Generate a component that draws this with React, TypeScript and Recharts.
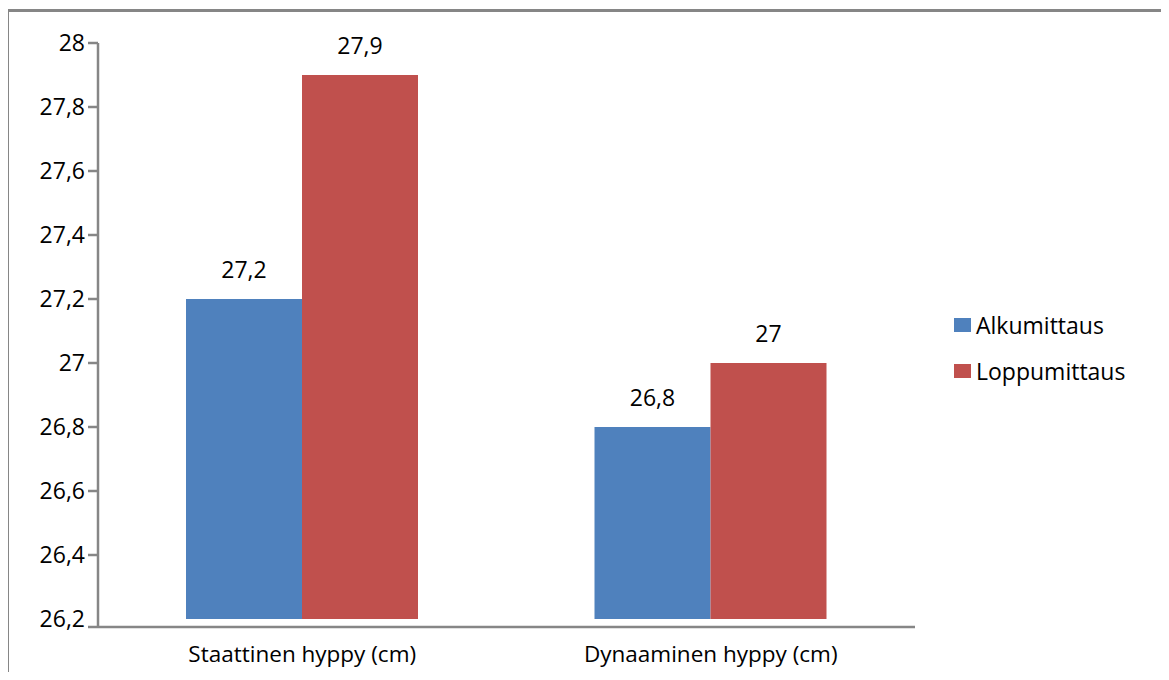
import React from 'react';
import {
    BarChart,
    Bar,
    XAxis,
    YAxis,
    Legend,
    LabelList,
} from 'recharts';

const categories = ['Staattinen hyppy (cm)', 'Dynaaminen hyppy (cm)'];
const alkumittaus = [27.2, 26.8];
const loppumittaus = [27.9, 27.0];
const yTicks = [26.2, 26.4, 26.6, 26.8, 27, 27.2, 27.4, 27.6, 27.8, 28];

// bars rise from the lowest tick; the horizontal axis sits a little below it
const barBase = 26.2;
const axisFloor = 26.175;

const chartData = categories.map((c, i) => ({
    category: c,
    alku: alkumittaus[i],
    loppu: loppumittaus[i],
}));

const axisColor = '#868686';
const fontFamily = '"Open Sans", sans-serif';
const fontSize = 23;
const tickSize = 10;
const tickMargin = 3;

const fmt = (v: any) => String(v).replace('.', ',');

// y tick: the lowest value gets no tick mark (the x axis runs just under it),
// the axis floor gets a mark but no label
const YTick = (props: any) => {
    const { x, y, payload } = props;
    const v = payload.value;
    return (
        <g>
            {v !== barBase && (
                <line
                    x1={x + tickMargin}
                    x2={x + tickMargin + tickSize}
                    y1={y}
                    y2={y}
                    stroke={axisColor}
                    strokeWidth={2.5}
                />
            )}
            {v !== axisFloor && (
                <text x={x} y={y} dy="0.355em" textAnchor="end" fill="#000" fontSize={fontSize} fontFamily={fontFamily}>
                    {fmt(v)}
                </text>
            )}
        </g>
    );
};

const renderLegend = (props: any) => {
    const { payload } = props;
    return (
        <ul style={{ listStyle: 'none', margin: 0, padding: 0 }}>
            {payload.map((entry: any) => (
                <li
                    key={entry.value}
                    style={{
                        display: 'flex',
                        alignItems: 'center',
                        height: 46,
                        fontSize,
                        color: '#000',
                        fontFamily,
                    }}
                >
                    <span
                        style={{
                            display: 'inline-block',
                            width: 17,
                            height: 14,
                            background: entry.color,
                            marginRight: 5,
                        }}
                    />
                    {entry.value}
                </li>
            ))}
        </ul>
    );
};

const App: React.FC = () => {
    return (
        <div style={{ position: 'relative', width: 1169, height: 680, margin: -8, fontFamily, background: '#fff' }}>
            <div
                style={{
                    position: 'absolute',
                    left: 6,
                    top: 9,
                    width: 1158,
                    height: 700,
                    border: `3px solid ${axisColor}`,
                    boxSizing: 'border-box',
                }}
            />
            <BarChart
                width={1169}
                height={680}
                data={chartData}
                margin={{ top: 43, right: 254, bottom: 0, left: 0 }}
                barGap={0}
                barSize={116}
                style={{ position: 'absolute', left: 0, top: 0 }}
            >
                <XAxis
                    dataKey="category"
                    height={53}
                    tickLine={false}
                    tickSize={0}
                    tickMargin={19}
                    axisLine={{ stroke: axisColor, strokeWidth: 2.5 }}
                    tick={{ fill: '#000', fontSize: 22.5, fontFamily }}
                />
                <YAxis
                    width={98}
                    domain={[axisFloor, 28]}
                    ticks={[axisFloor, ...yTicks]}
                    interval={0}
                    tickSize={tickSize}
                    tickMargin={tickMargin}
                    tickLine={false}
                    axisLine={{ stroke: axisColor, strokeWidth: 2.5 }}
                    tick={<YTick />}
                />
                <Legend
                    layout="vertical"
                    align="center"
                    verticalAlign="middle"
                    content={renderLegend}
                    wrapperStyle={{ left: 954, top: 302, width: 200 }}
                />
                <Bar
                    name="Alkumittaus"
                    dataKey={(d: any) => [barBase, d.alku]}
                    fill="#4F81BD"
                    isAnimationActive={false}
                >
                    <LabelList
                        dataKey="alku"
                        position="top"
                        offset={21}
                        formatter={fmt}
                        style={{ fill: '#000', fontSize, fontFamily }}
                    />
                </Bar>
                <Bar
                    name="Loppumittaus"
                    dataKey={(d: any) => [barBase, d.loppu]}
                    fill="#C0504D"
                    isAnimationActive={false}
                >
                    <LabelList
                        dataKey="loppu"
                        position="top"
                        offset={21}
                        formatter={fmt}
                        style={{ fill: '#000', fontSize, fontFamily }}
                    />
                </Bar>
            </BarChart>
        </div>
    );
};

export default App;
